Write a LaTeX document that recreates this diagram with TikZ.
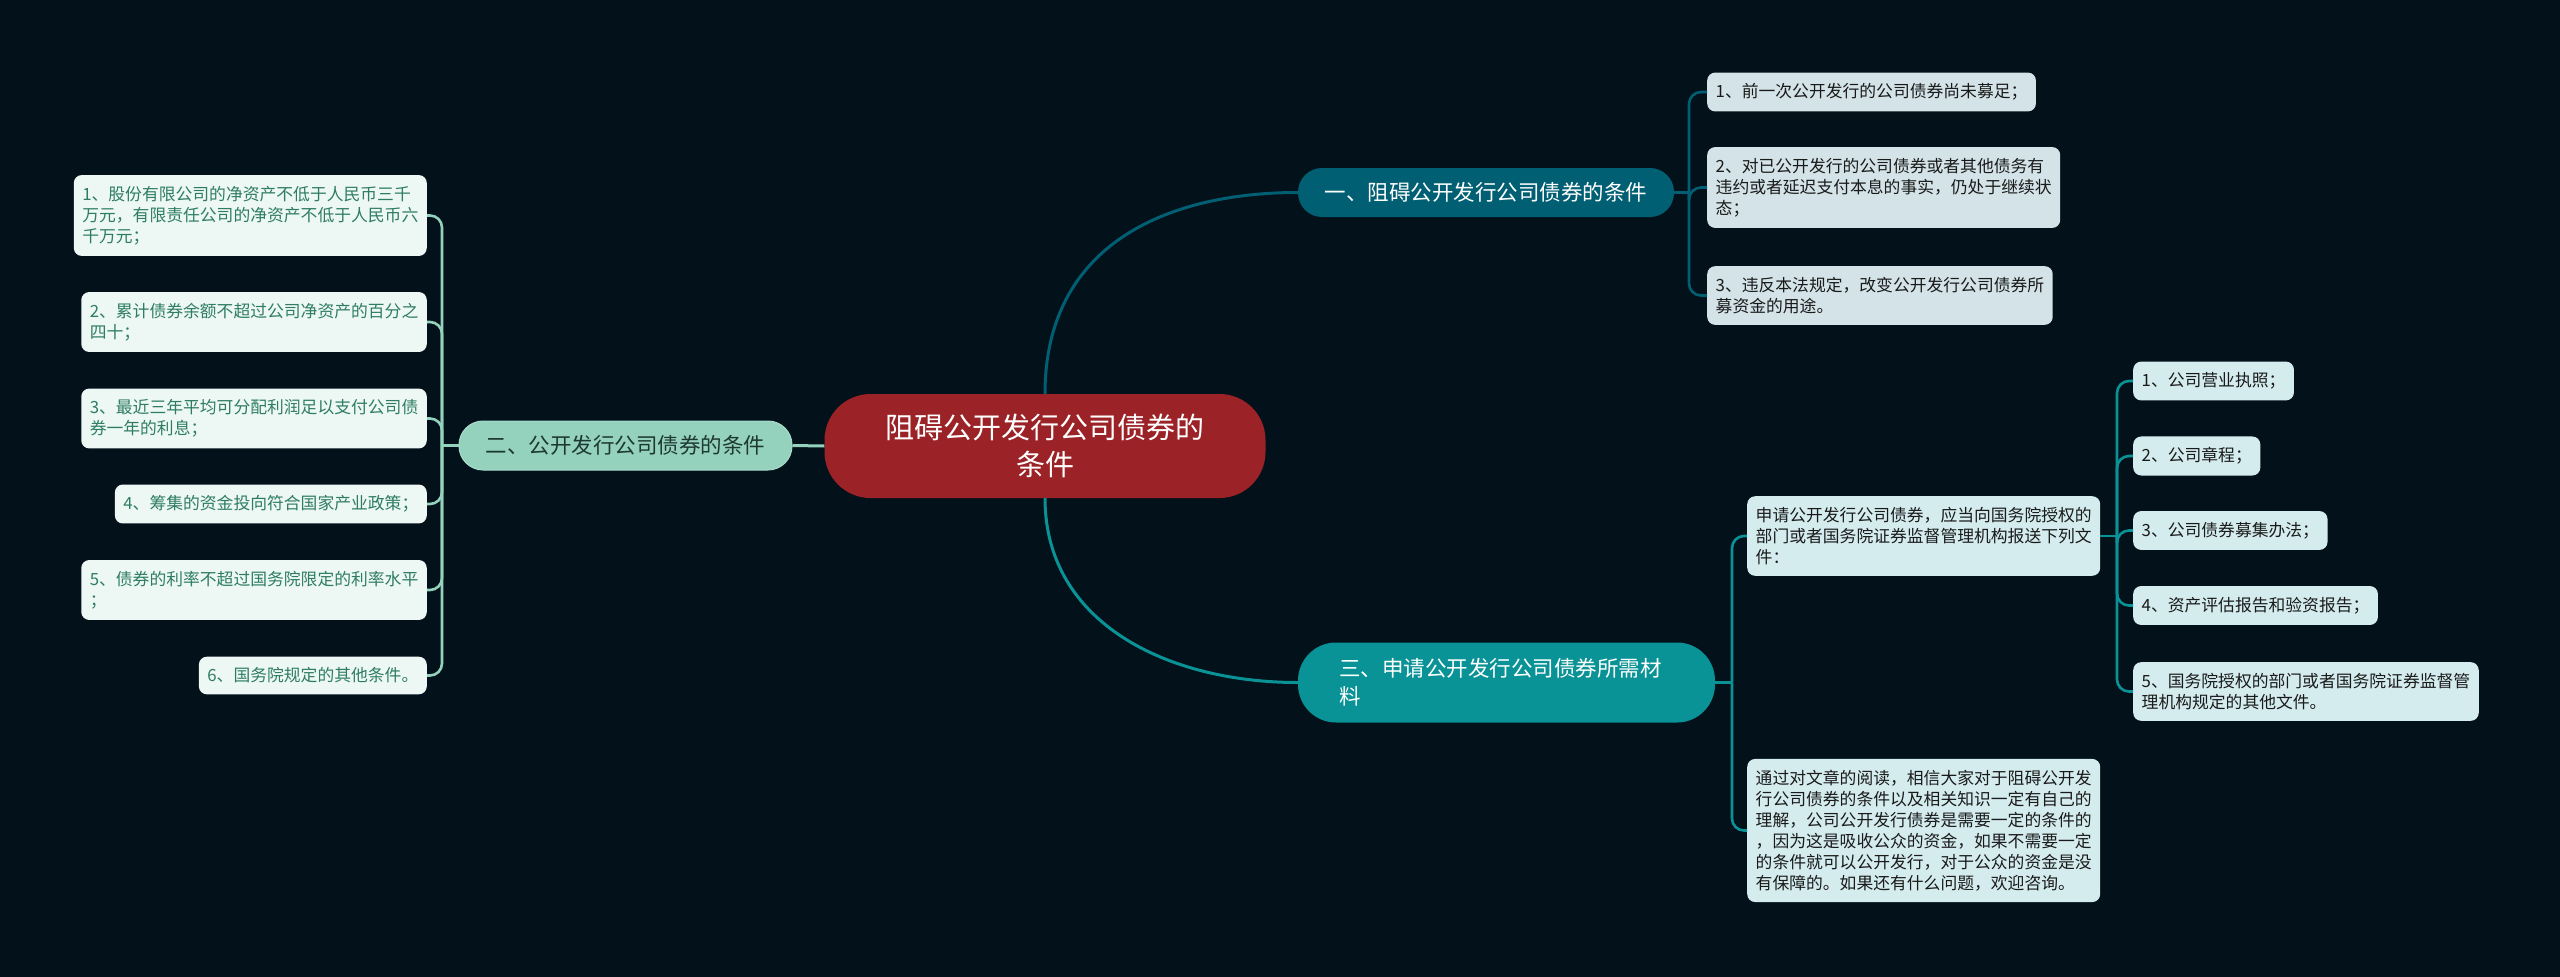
\documentclass[tikz,border=0pt]{standalone}
\usepackage{fontspec}
\newfontfamily\cjk{Noto Sans CJK SC}
\definecolor{bg}{HTML}{03111A}
\definecolor{rootc}{HTML}{9B2226}
\definecolor{onec}{HTML}{005F73}
\definecolor{threec}{HTML}{0A9396}
\definecolor{twoc}{HTML}{94D2BD}
\definecolor{twotext}{HTML}{1E3832}
\definecolor{leftfill}{HTML}{EDF7F3}
\definecolor{lefttext}{HTML}{2E7D63}
\definecolor{onefill}{HTML}{D3E3E7}
\definecolor{threefill}{HTML}{D4ECEE}
\definecolor{darktext}{HTML}{1A1A1A}
\begin{document}
\begin{tikzpicture}[x=1pt,y=-1pt,
  leaf/.style={rounded corners=8pt, inner xsep=8.5pt, inner ysep=11pt, align=left,
    font={\cjk\fontsize{16.8}{21}\selectfont}},
  leftleaf/.style={leaf, fill=leftfill, text=lefttext, anchor=east},
  oneleaf/.style={leaf, fill=onefill, text=darktext, anchor=west},
  threeleaf/.style={leaf, fill=threefill, text=darktext, anchor=west},
  mainnode/.style={inner sep=0pt, font={\cjk\fontsize{21.5}{28}\selectfont}},
  conn/.style={line width=3pt},
  bconn/.style={line width=2.6pt, rounded corners=12pt}
]
\useasboundingbox (0,0) rectangle (2560,977);
\fill[bg] (0,0) rectangle (2560,977);

% main nodes
\node[fill=rootc, text=white, rounded corners=46pt, minimum width=441pt, minimum height=104pt,
  inner sep=0pt, align=center, font={\cjk\fontsize{29}{37}\selectfont}]
  (root) at (1045,446) {阻碍公开发行公司债券的\\条件};
\node[mainnode, fill=twoc, draw=twoc!80!white, line width=1pt, text=twotext, rounded corners=24pt,
  minimum width=333pt, minimum height=49pt] (two) at (625.5,445.5) {二、公开发行公司债券的条件};
\node[mainnode, fill=onec, text=white, rounded corners=24pt,
  minimum width=376pt, minimum height=49pt] (one) at (1486,192.5) {一、阻碍公开发行公司债券的条件};
\node[mainnode, fill=threec, text=white, rounded corners=38pt,
  minimum width=417pt, minimum height=80pt, text width=335pt, align=left]
  (three) at (1506.5,682.5) {三、申请公开发行公司债券所需材\\料};

% left children
\node[leftleaf] (c1) at (427,215.5) {1、股份有限公司的净资产不低于人民币三千\\万元，有限责任公司的净资产不低于人民币六\\千万元；};
\node[leftleaf] (c2) at (427,322) {2、累计债券余额不超过公司净资产的百分之\\四十；};
\node[leftleaf] (c3) at (427,418.5) {3、最近三年平均可分配利润足以支付公司债\\券一年的利息；};
\node[leftleaf] (c4) at (427,504) {4、筹集的资金投向符合国家产业政策；};
\node[leftleaf] (c5) at (427,590) {5、债券的利率不超过国务院限定的利率水平\\；};
\node[leftleaf] (c6) at (427,675.5) {6、国务院规定的其他条件。};

% one children
\node[oneleaf] (r1) at (1707,92) {1、前一次公开发行的公司债券尚未募足；};
\node[oneleaf] (r2) at (1707,187.5) {2、对已公开发行的公司债券或者其他债务有\\违约或者延迟支付本息的事实，仍处于继续状\\态；};
\node[oneleaf] (r3) at (1707,295.5) {3、违反本法规定，改变公开发行公司债券所\\募资金的用途。};

% three children
\node[threeleaf] (m) at (1747,536) {申请公开发行公司债券，应当向国务院授权的\\部门或者国务院证券监督管理机构报送下列文\\件：};
\node[threeleaf] (k) at (1747,830.5) {通过对文章的阅读，相信大家对于阻碍公开发\\行公司债券的条件以及相关知识一定有自己的\\理解，公司公开发行债券是需要一定的条件的\\，因为这是吸收公众的资金，如果不需要一定\\的条件就可以公开发行，对于公众的资金是没\\有保障的。如果还有什么问题，欢迎咨询。};
\node[threeleaf] (s1) at (2133,381) {1、公司营业执照；};
\node[threeleaf] (s2) at (2133,456) {2、公司章程；};
\node[threeleaf] (s3) at (2133,530.5) {3、公司债券募集办法；};
\node[threeleaf] (s4) at (2133,605.5) {4、资产评估报告和验资报告；};
\node[threeleaf] (s5) at (2133,691.5) {5、国务院授权的部门或者国务院证券监督管\\理机构规定的其他文件。};

% trunk coordinates
\coordinate (TL) at (442,0);
\coordinate (T1) at (1689,0);
\coordinate (T3) at (1732,0);
\coordinate (TM) at (2117,0);

% root connectors
\draw[conn, twoc] (root.west) -- (two.east);
\draw[conn, onec] (root.north) .. controls +(0,-150) and +(-130,0) .. (one.west);
\draw[conn, threec] (root.south) .. controls +(0,125) and +(-130,0) .. (three.west);

% left bracket
\draw[bconn, twoc] (two.west) -- (TL |- two.west);
\foreach \c in {c1,c2,c3,c4,c5,c6}
  \draw[bconn, twoc] (TL |- two.west) -- (TL |- \c.east) -- (\c.east);

% one bracket
\draw[bconn, onec] (one.east) -- (T1 |- one.east);
\foreach \c in {r1,r2,r3}
  \draw[bconn, onec] (T1 |- one.east) -- (T1 |- \c.west) -- (\c.west);

% three bracket
\draw[bconn, threec] (three.east) -- (T3 |- three.east);
\foreach \c in {m,k}
  \draw[bconn, threec] (T3 |- three.east) -- (T3 |- \c.west) -- (\c.west);

% m bracket
\draw[bconn, threec] (m.east) -- (TM |- m.east);
\foreach \c in {s1,s2,s3,s4,s5}
  \draw[bconn, threec] (TM |- m.east) -- (TM |- \c.west) -- (\c.west);
\end{tikzpicture}
\end{document}
